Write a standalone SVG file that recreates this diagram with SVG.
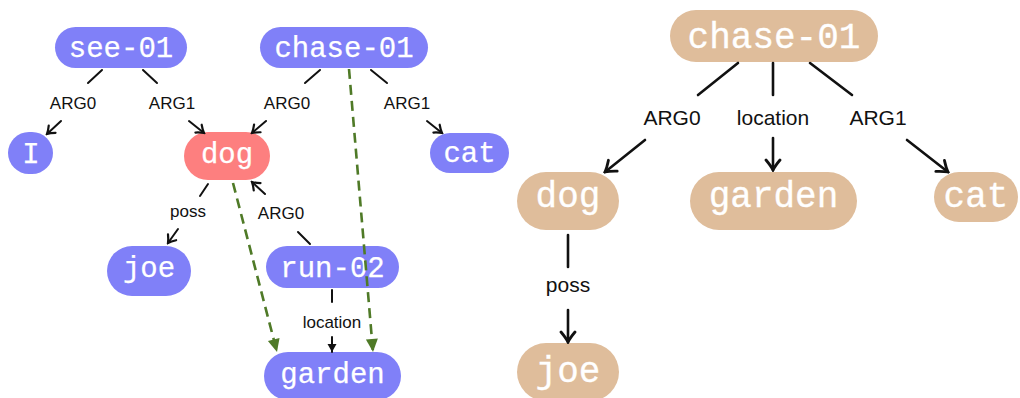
<svg xmlns="http://www.w3.org/2000/svg" width="1020" height="398" viewBox="0 0 1020 398">
  <style>
    .blue { fill: #8080f8; }
    .red { fill: #fd7f7f; }
    .tan { fill: #dfbd9b; }
    .nt { font-family: "Liberation Mono", "DejaVu Sans Mono", monospace; fill: #ffffff; text-anchor: middle; stroke: #ffffff; stroke-width: 0.25; }
    .s { font-size: 29px; }
    .b { font-size: 36px; stroke-width: 0.3; }
    .el { font-family: "Liberation Sans", Arial, sans-serif; fill: #111111; text-anchor: middle; }
    .el1 { font-size: 17px; }
    .el2 { font-size: 21px; }
    .ln { stroke: #111111; fill: none; stroke-linecap: round; }
    .thin { stroke-width: 2; }
    .thick { stroke-width: 2.6; }
    .dash { stroke: #4f7a27; stroke-width: 2.6; fill: none; stroke-dasharray: 10 6; }
  </style>
  <defs>
    <marker id="tip" markerUnits="userSpaceOnUse" viewBox="-10 -8 12 16" refX="0" refY="0" markerWidth="12" markerHeight="16" orient="auto">
      <path d="M-7,-5 Q-3,-1.5 0,0 Q-3,1.5 -7,5" fill="none" stroke="#111111" stroke-width="2.2" stroke-linecap="round"/>
    </marker>
    <marker id="tipBig" markerUnits="userSpaceOnUse" viewBox="-14 -10 16 20" refX="0" refY="0" markerWidth="16" markerHeight="20" orient="auto">
      <path d="M-10,-7 Q-4,-2 0,0 Q-4,2 -10,7" fill="none" stroke="#111111" stroke-width="2.8" stroke-linecap="round"/>
    </marker>
    <marker id="tri" markerUnits="userSpaceOnUse" viewBox="-10 -6 12 12" refX="0" refY="0" markerWidth="12" markerHeight="12" orient="auto">
      <path d="M0,0 L-8,-4.5 L-8,4.5 Z" fill="#111111"/>
    </marker>
    <marker id="triGreen" markerUnits="userSpaceOnUse" viewBox="-14 -8 16 16" refX="0" refY="0" markerWidth="16" markerHeight="16" orient="auto">
      <path d="M0,0 L-13,-6 L-13,6 Z" fill="#4f7a27"/>
    </marker>
  </defs>

  <!-- left graph nodes -->
  <g id="see-01">
    <rect class="blue" x="55" y="27" width="132" height="41" rx="20.5"/>
    <text class="nt s" x="121" y="57">see-01</text>
  </g>
  <g id="I">
    <rect class="blue" x="8" y="132" width="45" height="42" rx="21"/>
    <text class="nt s" x="31" y="163">I</text>
  </g>
  <g id="dog">
    <rect class="red" x="184" y="132" width="86" height="48" rx="24"/>
    <text class="nt s" x="227" y="163">dog</text>
  </g>
  <g id="chase-01">
    <rect class="blue" x="260" y="27" width="168" height="41" rx="20.5"/>
    <text class="nt s" x="344" y="57">chase-01</text>
  </g>
  <g id="cat">
    <rect class="blue" x="430" y="133" width="79" height="40" rx="20"/>
    <text class="nt s" x="469.5" y="162">cat</text>
  </g>
  <g id="joe">
    <rect class="blue" x="107" y="246" width="84" height="50" rx="25"/>
    <text class="nt s" x="149" y="277">joe</text>
  </g>
  <g id="run-02">
    <rect class="blue" x="266" y="246" width="133" height="42" rx="21"/>
    <text class="nt s" x="332.5" y="277">run-02</text>
  </g>
  <g id="garden">
    <rect class="blue" x="264" y="352" width="137" height="48" rx="24"/>
    <text class="nt s" x="332.5" y="383">garden</text>
  </g>

  <!-- right graph nodes -->
  <g id="chase-01-b">
    <rect class="tan" x="670" y="10" width="208" height="52" rx="26"/>
    <text class="nt b" x="774" y="48">chase-01</text>
  </g>
  <g id="dog-b">
    <rect class="tan" x="517" y="172" width="102" height="58" rx="29"/>
    <text class="nt b" x="568" y="207">dog</text>
  </g>
  <g id="garden-b">
    <rect class="tan" x="690" y="172" width="167" height="58" rx="29"/>
    <text class="nt b" x="773.5" y="207">garden</text>
  </g>
  <g id="cat-b">
    <rect class="tan" x="934" y="172" width="84" height="50" rx="25"/>
    <text class="nt b" x="976" y="207">cat</text>
  </g>
  <g id="joe-b">
    <rect class="tan" x="517" y="343" width="102" height="58" rx="29"/>
    <text class="nt b" x="568" y="382">joe</text>
  </g>

  <!-- connectors (drawn over the nodes so the dashed links cross run-02) -->
  <g id="connectors">
    <!-- left graph -->
    <line class="ln thin" x1="102" y1="70" x2="88" y2="83"/>
    <text class="el el1" x="73" y="109">ARG0</text>
    <line class="ln thin" x1="61" y1="121" x2="47" y2="134" marker-end="url(#tip)"/>

    <line class="ln thin" x1="143" y1="70" x2="157" y2="83"/>
    <text class="el el1" x="172" y="109">ARG1</text>
    <line class="ln thin" x1="189" y1="121" x2="204" y2="133" marker-end="url(#tip)"/>

    <line class="ln thin" x1="320" y1="70" x2="305" y2="83"/>
    <text class="el el1" x="287" y="109">ARG0</text>
    <line class="ln thin" x1="266" y1="121" x2="252" y2="133" marker-end="url(#tip)"/>

    <line class="ln thin" x1="371" y1="70" x2="387" y2="83"/>
    <text class="el el1" x="407" y="109">ARG1</text>
    <line class="ln thin" x1="427" y1="121" x2="442" y2="133" marker-end="url(#tip)"/>

    <line class="ln thin" x1="208" y1="184" x2="200" y2="196"/>
    <text class="el el1" x="188" y="217">poss</text>
    <line class="ln thin" x1="178" y1="229" x2="168" y2="243" marker-end="url(#tip)"/>

    <line class="ln thin" x1="310" y1="244" x2="298" y2="232"/>
    <text class="el el1" x="281" y="219">ARG0</text>
    <line class="ln thin" x1="265" y1="194" x2="252" y2="182" marker-end="url(#tip)"/>

    <line class="ln thin" x1="332" y1="290" x2="332" y2="302"/>
    <text class="el el1" x="332" y="328">location</text>
    <line class="ln thin" x1="332" y1="337" x2="332" y2="352" marker-end="url(#tri)"/>

    <line class="dash" x1="233" y1="183" x2="277" y2="352" marker-end="url(#triGreen)"/>
    <line class="dash" x1="349" y1="69" x2="373" y2="352" marker-end="url(#triGreen)"/>

    <!-- right graph -->
    <line class="ln thick" x1="738" y1="63" x2="698" y2="95"/>
    <text class="el el2" x="672" y="125">ARG0</text>
    <line class="ln thick" x1="645" y1="140" x2="605" y2="172" marker-end="url(#tipBig)"/>

    <line class="ln thick" x1="773" y1="63" x2="773" y2="95"/>
    <text class="el el2" x="773" y="125">location</text>
    <line class="ln thick" x1="773" y1="138" x2="773" y2="170" marker-end="url(#tipBig)"/>

    <line class="ln thick" x1="810" y1="63" x2="852" y2="95"/>
    <text class="el el2" x="878" y="125">ARG1</text>
    <line class="ln thick" x1="907" y1="140" x2="948" y2="172" marker-end="url(#tipBig)"/>

    <line class="ln thick" x1="568" y1="235" x2="568" y2="267"/>
    <text class="el el2" x="568" y="292">poss</text>
    <line class="ln thick" x1="568" y1="310" x2="568" y2="342" marker-end="url(#tipBig)"/>
  </g>
</svg>
